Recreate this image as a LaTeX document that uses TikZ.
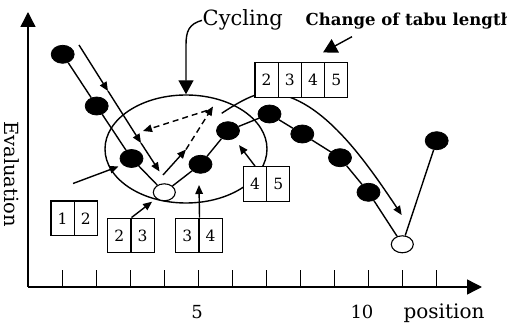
\documentclass[tikz,border=0pt]{standalone}
\usepackage{fontspec}
\setmainfont{DejaVu Serif}
\usetikzlibrary{arrows.meta,shapes.geometric}

\begin{document}
\begin{tikzpicture}[x=1pt,y=-1pt,
  line width=1.4pt,
  solidpt/.style={ellipse,fill=black,draw=black,line width=0.8pt,minimum width=23pt,minimum height=18pt,inner sep=0pt},
  openpt/.style={ellipse,fill=white,draw=black,line width=1.1pt,minimum width=22pt,minimum height=17pt,inner sep=0pt},
  cell/.style={rectangle,draw=black,fill=white,line width=1.2pt,minimum width=23.2pt,minimum height=34.7pt,inner sep=0pt,font=\fontsize{15.5}{17}\selectfont},
  smallarr/.style={-{Triangle[length=9pt,width=7.5pt]}},
  bigarr/.style={-{Triangle[length=14pt,width=15pt]}},
  axisarr/.style={-{Triangle[length=15pt,width=15pt]}},
  lbl/.style={inner sep=0pt,font=\fontsize{18}{20}\selectfont}
]
\useasboundingbox (0,0) rectangle (507,323);

% axes
\coordinate (O) at (28,287);
\coordinate (Ytop) at (28,12);
\coordinate (Xend) at (482,287);
\draw[axisarr] (O) -- (Ytop);
\draw[axisarr] (O) -- (Xend);
\foreach \t in {62.7,96.7,130.7,164.7,198.7,232.7,266.7,300.7,334.7,368.7,402.7,436.7}
  \draw (\t,287) -- (\t,270);

\node[lbl,anchor=base] (five) at (197,318.5) {5};
\node[lbl,anchor=base] (ten) at (362,318.5) {10};
\node[lbl,anchor=base,font=\fontsize{20}{22}\selectfont] (pos) at (444,318.5) {position};
\node[lbl,rotate=-90,font=\fontsize{19.5}{22}\selectfont] (eval) at (12,174) {Evaluation};

% region where the search cycles
\node[ellipse,draw,minimum width=162pt,minimum height=108pt,inner sep=0pt] (cyc) at (186,149) {};

% search trajectory
\node[solidpt] (p1) at (62.7,54.3) {};
\node[solidpt] (p2) at (96.7,106) {};
\node[solidpt] (p3) at (131.5,158.5) {};
\node[openpt]  (p4) at (164.3,192.3) {};
\node[solidpt] (p5) at (200.5,164.3) {};
\node[solidpt] (p6) at (228,130.7) {};
\node[solidpt] (p7) at (269.5,114) {};
\node[solidpt] (p8) at (302.3,134) {};
\node[solidpt] (p9) at (340,157.7) {};
\node[solidpt] (p10) at (368.5,192.3) {};
\node[openpt]  (p11) at (402.3,244.3) {};
\node[solidpt] (p12) at (436.7,140.7) {};
\foreach \a/\b in {p1/p2,p2/p3,p3/p4,p4/p5,p5/p6,p6/p7,p7/p8,p8/p9,p9/p10,p10/p11,p11/p12}
  \draw (\a) -- (\b);

% descent arrow beside the trajectory
\coordinate (d0) at (79,45);
\coordinate (d1) at (108,91);
\coordinate (d2) at (141,143);
\coordinate (d3) at (159.5,171.5);
\draw[smallarr] (d0) -- (d1);
\draw[smallarr] (d1) -- (d2);
\draw[smallarr] (d2) -- (d3);

% cycling moves
\coordinate (c1) at (163,175);
\coordinate (c2) at (186,149.5);
\coordinate (c3) at (213,106.5);
\coordinate (c4) at (207,110.5);
\coordinate (c5) at (143,131);
\draw[smallarr] (c1) -- (c2);
\draw[smallarr,dash pattern=on 6pt off 4pt] (c2) -- (c3);
\draw[smallarr,dash pattern=on 6pt off 4pt] (c4) -- (c5);

% arrow into the cycling region
\coordinate (e0) at (73,183.5);
\coordinate (e1) at (118.5,166.5);
\draw[smallarr] (e0) -- (e1);

% long move after the tabu length grows
\coordinate (ta) at (221.7,113.3);
\coordinate (tb) at (401.7,215);
\draw[smallarr] (ta) .. controls (245,98) and (258,92) .. (272,93)
  .. controls (322,98) and (365,160) .. (tb);

% tabu lists
\node[cell] (a1) at (62.6,218.3) {1};
\node[cell] (a2) at (85.8,218.3) {2};
\node[cell] (b1) at (119.3,235.5) {2};
\node[cell] (b2) at (142.5,235.5) {3};
\node[cell] (k1) at (187.3,235.5) {3};
\node[cell] (k2) at (210.5,235.5) {4};
\node[cell] (f1) at (255,184) {4};
\node[cell] (f2) at (278.2,184) {5};
\node[cell] (g1) at (266.6,80) {2};
\node[cell] (g2) at (289.8,80) {3};
\node[cell] (g3) at (313,80) {4};
\node[cell] (g4) at (336.2,80) {5};

\draw[smallarr,shorten >=5pt] (b1.north east) -- (p4);
\coordinate (k0) at (199,185);
\draw[smallarr] (k1.north east) -- (k0);
\draw[smallarr,shorten >=8pt] (f1.north) -- (p6);

% labels with pointers
\node[lbl,anchor=base west,font=\fontsize{21}{24}\selectfont] (cl) at (202,26) {Cycling};
\draw[bigarr] (cl.west) .. controls (189,24) and (186,31) .. (186,45) -- (cyc.north);

\node[lbl,anchor=base west,font=\fontsize{16.5}{20}\selectfont\bfseries] (tl) at (305,26) {Change of tabu length};
\coordinate (t0) at (352,36.7);
\coordinate (t1) at (323,52.5);
\draw[bigarr] (t0) -- (t1);
\end{tikzpicture}
\end{document}
